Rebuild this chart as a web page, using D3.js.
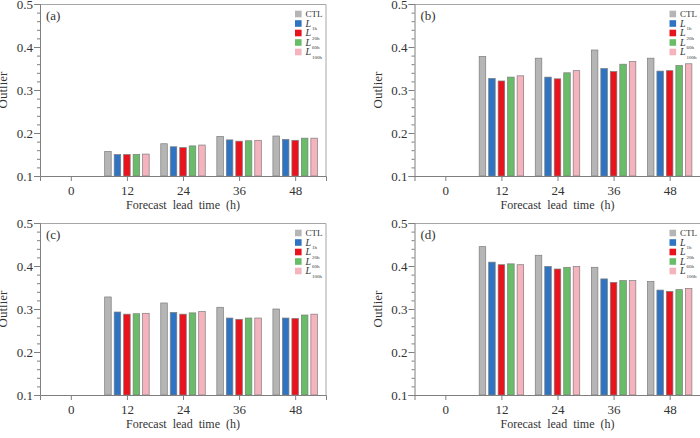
<!DOCTYPE html>
<html>
<head>
<meta charset="utf-8">
<script src="https://cdn.jsdelivr.net/npm/d3@7"></script>
<style>
  body { margin: 0; background: #fff; }
  text { font-family: "Liberation Serif", "Times New Roman", serif; }
</style>
</head>
<body>
<script>
// lead times with bars, and the tick labels of both axes
var leadTimes = [12, 24, 36, 48];
var xTicks = [0, 12, 24, 36, 48];
var yTicks = [0.1, 0.2, 0.3, 0.4, 0.5];

var seriesNames = ["CTL", "1h", "20h", "60h", "100h"];
var seriesColors = ["#b5b5b5", "#2f74c2", "#e8131d", "#69bd68", "#f5b4bd"];

// rows: CTL, L1h, L20h, L60h, L100h ; columns: 12, 24, 36, 48 h
var panelA = [
  [0.157, 0.175, 0.192, 0.193],
  [0.150, 0.168, 0.184, 0.185],
  [0.150, 0.166, 0.181, 0.183],
  [0.150, 0.170, 0.182, 0.188],
  [0.151, 0.172, 0.183, 0.188]
];
var panelB = [
  [0.378, 0.374, 0.393, 0.374],
  [0.327, 0.330, 0.350, 0.344],
  [0.321, 0.326, 0.343, 0.345],
  [0.330, 0.340, 0.360, 0.357],
  [0.333, 0.345, 0.366, 0.361]
];
var panelC = [
  [0.328, 0.314, 0.304, 0.300],
  [0.293, 0.292, 0.279, 0.279],
  [0.288, 0.288, 0.276, 0.278],
  [0.289, 0.291, 0.279, 0.286],
  [0.290, 0.294, 0.279, 0.288]
];
var panelD = [
  [0.445, 0.425, 0.397, 0.364],
  [0.409, 0.399, 0.370, 0.344],
  [0.403, 0.393, 0.362, 0.341],
  [0.405, 0.397, 0.366, 0.345],
  [0.403, 0.399, 0.366, 0.348]
];

var pw = 286, ph = 172;
var panels = [
  { label: "(a)", data: panelA, left: 40, top: 4 },
  { label: "(b)", data: panelB, left: 414.5, top: 4 },
  { label: "(c)", data: panelC, left: 40, top: 223 },
  { label: "(d)", data: panelD, left: 414.5, top: 223 }
];

var svg = d3.select("body").append("svg")
  .attr("width", 700)
  .attr("height", 438);

var xScale = d3.scaleLinear().domain([-6.6, 54.6]).range([0, pw]);
var yScale = d3.scaleLinear().domain([0.1, 0.5]).range([ph, 0]);
var barW = xScale(1.4) - xScale(0);
var step = 2.03; // hours between bars of a group

panels.forEach(function(p) {
  var g = svg.append("g")
    .attr("transform", "translate(" + p.left + "," + p.top + ")");

  // frame (top and right)
  g.append("path")
    .attr("d", "M0,0.5H" + pw + "V" + ph)
    .attr("fill", "none")
    .attr("stroke", "#a6a6a6")
    .attr("stroke-width", 1);

  // bars
  p.data.forEach(function(vals, i) {
    g.selectAll(".s" + i)
      .data(vals)
      .enter()
      .append("rect")
      .attr("class", "s" + i)
      .attr("x", function(d, j) { return xScale(leadTimes[j] + (i - 2) * step) - barW / 2; })
      .attr("y", function(d) { return yScale(d); })
      .attr("width", barW)
      .attr("height", function(d) { return yScale(0.1) - yScale(d); })
      .attr("fill", seriesColors[i])
      .attr("stroke", "#7d7d7d")
      .attr("stroke-width", 0.7);
  });

  // minor y ticks
  var minor = d3.range(0.12, 0.5, 0.02).filter(function(v) {
    return Math.abs(v * 10 - Math.round(v * 10)) > 0.01;
  });
  g.append("g")
    .attr("class", "minor")
    .call(d3.axisLeft(yScale).tickValues(minor).tickSize(3).tickFormat(""))
    .call(function(s) { s.select(".domain").remove(); });

  // y axis
  var yAx = g.append("g")
    .call(d3.axisLeft(yScale).tickValues(yTicks).tickSize(6).tickPadding(1)
      .tickFormat(d3.format(".1f")));

  // x axis
  var xAx = g.append("g")
    .attr("transform", "translate(0," + ph + ")")
    .call(d3.axisBottom(xScale).tickValues(xTicks).tickSize(5).tickPadding(5));

  [yAx, xAx].forEach(function(a) {
    a.selectAll("text").attr("font-size", "13px").attr("fill", "#333")
      .attr("font-family", "Liberation Serif, serif");
  });
  g.selectAll(".domain, .tick line").attr("stroke", "#7f7f7f");

  // axis titles
  g.append("text")
    .attr("x", pw / 2)
    .attr("y", ph + 33)
    .attr("text-anchor", "middle")
    .attr("font-size", "12px")
    .attr("word-spacing", "3px")
    .attr("fill", "#333")
    .text("Forecast lead time (h)");

  g.append("text")
    .attr("transform", "translate(-33," + (ph / 2) + ") rotate(-90)")
    .attr("text-anchor", "middle")
    .attr("font-size", "13px")
    .attr("fill", "#333")
    .text("Outlier");

  // panel label
  g.append("text")
    .attr("x", 6)
    .attr("y", 16)
    .attr("font-size", "13px")
    .attr("fill", "#333")
    .text(p.label);

  // legend
  var legend = g.append("g").attr("transform", "translate(255,10)");
  seriesNames.forEach(function(name, i) {
    var row = legend.append("g").attr("transform", "translate(0," + i * 9.5 + ")");
    row.append("rect")
      .attr("x", 0)
      .attr("y", -3.3)
      .attr("width", 6.6)
      .attr("height", 6.6)
      .attr("fill", seriesColors[i]);
    var t = row.append("text")
      .attr("x", 10.5)
      .attr("y", 3)
      .attr("fill", "#333")
      .attr("font-size", "9px");
    if (i === 0) {
      t.text(name);
    } else {
      t.append("tspan").attr("font-style", "italic").attr("font-size", "10px").text("L");
      t.append("tspan").attr("font-size", "5px").attr("dx", "1").attr("dy", "3.5").text(name);
    }
  });
});
</script>
</body>
</html>
